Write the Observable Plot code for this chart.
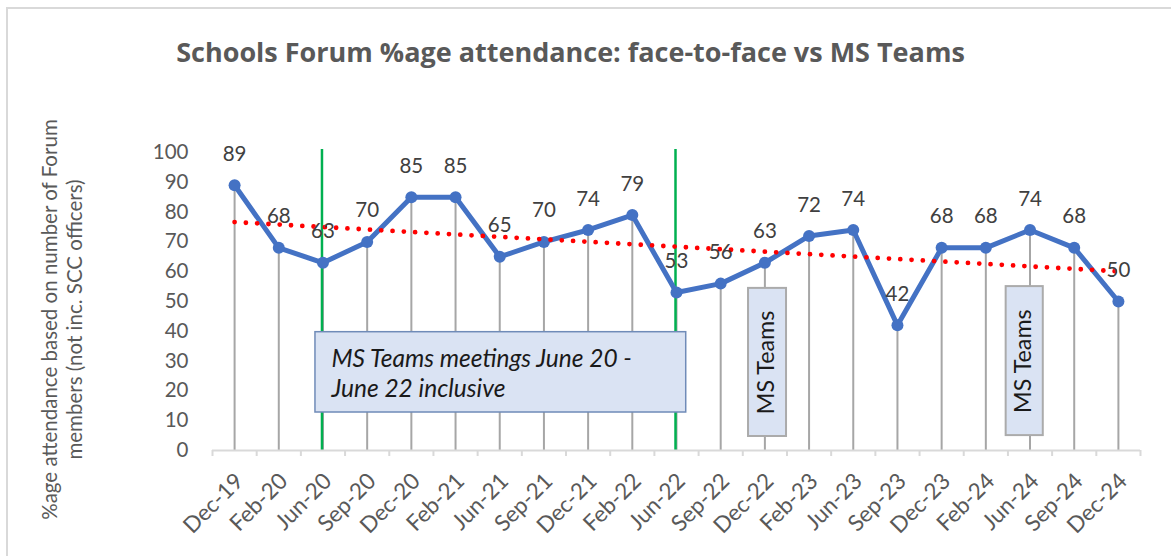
<!DOCTYPE html>
<html>
<head>
<meta charset="utf-8">
<script src="https://cdn.jsdelivr.net/npm/d3@7"></script>
<script src="https://cdn.jsdelivr.net/npm/@observablehq/plot@0.6"></script>
<style>
  html, body { margin: 0; padding: 0; background: #fff; }
  #wrap { position: relative; width: 1171px; height: 556px; overflow: hidden; background: #fff; font-family: Lato, "Open Sans", sans-serif; }
  #frame { position: absolute; left: 6px; top: 7px; width: 1300px; height: 700px; border-top: 2px solid #d9d9d9; border-left: 2px solid #d9d9d9; box-sizing: border-box; }
  #title { position: absolute; left: 0; width: 1141px; top: 36px; line-height: 32px; text-align: center; font-family: "Open Sans", Lato, sans-serif; font-weight: bold; font-size: 27px; color: #595959; white-space: nowrap; }
  #chart { position: absolute; left: 0; top: 100px; }
</style>
</head>
<body>
<div id="wrap">
  <div id="frame"></div>
  <div id="title">Schools Forum %age attendance: face-to-face vs MS Teams</div>
  <div id="chart"></div>
</div>
<script>
// ---- data ----
const categories = ["Dec-19","Feb-20","Jun-20","Sep-20","Dec-20","Feb-21","Jun-21","Sep-21","Dec-21","Feb-22","Jun-22","Sep-22","Dec-22","Feb-23","Jun-23","Sep-23","Dec-23","Feb-24","Jun-24","Sep-24","Dec-24"];
const values = [89, 68, 63, 70, 85, 85, 65, 70, 74, 79, 53, 56, 63, 72, 74, 42, 68, 68, 74, 68, 50];
const yTicks = [0, 10, 20, 30, 40, 50, 60, 70, 80, 90, 100];
const yTitle = "%age attendance based on number of Forum\nmembers (not inc. SCC officers)";
const periodMarkers = ["Jun-20", "Jun-22"];
const periodTop = 101;
// annotation boxes (x in category-index units, y in %)
const boxText = ["MS Teams meetings June 20 -\nJune 22 inclusive", "MS Teams", "MS Teams"];
const boxX1 = [1.83, 11.63, 17.46];
const boxX2 = [10.22, 12.49, 18.30];
const boxY1 = [12.75, 4.7, 5.0];
const boxY2 = [39.7, 54.4, 55.0];

// ---- derived tables ----
const rows = categories.map((c, i) => ({i, c, v: values[i]}));
const markerIdx = periodMarkers.map(m => categories.indexOf(m));
const boxes = boxText.map((t, k) => ({t, x1: boxX1[k], x2: boxX2[k], y1: boxY1[k], y2: boxY2[k], k}));
const bigBox = boxes.filter(b => b.k === 0);
const smallBoxes = boxes.filter(b => b.k !== 0);
const boundaries = d3.range(-0.5, categories.length, 1);

const plot = Plot.plot({
  width: 1171,
  height: 456,
  marginLeft: 212,
  marginRight: 31,
  marginTop: 52,
  marginBottom: 106,
  style: {fontFamily: "Lato, 'Open Sans', sans-serif", fontSize: "20.5px", color: "#595959", background: "transparent", overflow: "visible"},
  x: {domain: [-0.5, categories.length - 0.5], axis: null},
  y: {domain: [0, 100], axis: null},
  marks: [
    // y axis labels
    Plot.axisY({ticks: yTicks, tickSize: 0, tickPadding: 24, label: null, fontSize: 20.5}),
    // drop lines
    Plot.ruleX(rows, {x: "i", y1: 0, y2: "v", stroke: "#a6a6a6", strokeWidth: 2}),
    // period markers
    Plot.ruleX(markerIdx, {x: d => d, y1: 0, y2: periodTop, stroke: "#00B050", strokeWidth: 2.5, dx: -1}),
    // axis line & ticks
    Plot.ruleY([0], {stroke: "#d9d9d9", strokeWidth: 2}),
    Plot.axisX({ticks: boundaries, tickSize: 6, tickFormat: () => "", stroke: "#d9d9d9", strokeWidth: 2, strokeOpacity: 1, label: null}),
    // annotation boxes
    Plot.rect(bigBox, {x1: "x1", x2: "x2", y1: "y1", y2: "y2", fill: "#DAE3F3", stroke: "#6F8BB8", strokeWidth: 1.5}),
    Plot.rect(smallBoxes, {x1: "x1", x2: "x2", y1: "y1", y2: "y2", fill: "#DAE3F3", stroke: "#ABABAB", strokeWidth: 2}),
    Plot.text(bigBox, {x: "x1", y: d => (d.y1 + d.y2) / 2, text: "t", textAnchor: "start", dx: 16, fontStyle: "italic", fontSize: 24.5, lineHeight: 1.22, fill: "#1a1a1a"}),
    Plot.text(smallBoxes, {x: d => (d.x1 + d.x2) / 2, y: d => (d.y1 + d.y2) / 2, text: "t", rotate: -90, fontSize: 23.3, fill: "#1a1a1a", dx: -1}),
    // series line
    Plot.line(rows, {x: "i", y: "v", stroke: "#4472C4", strokeWidth: 5, strokeLinejoin: "round"}),
    Plot.dot(rows, {x: "i", y: "v", r: 6, fill: "#4472C4", stroke: "none"}),
    // linear trendline
    Plot.linearRegressionY(rows, {x: "i", y: "v", ci: 0, stroke: "#FF0000", strokeWidth: 4.8, strokeDasharray: "0 11.3", strokeLinecap: "round"}),
    // data labels
    Plot.text(rows, {x: "i", y: "v", text: d => String(d.v), dy: -31, fill: "#404040", fontSize: 20.5}),
    // category labels
    Plot.text(rows, {x: "i", y: 0, text: "c", rotate: -45, textAnchor: "end", dx: 5, dy: 27, fill: "#595959", fontSize: 22.5}),
    // y title
    Plot.text([yTitle], {frameAnchor: "left", text: d => d, rotate: -90, textAnchor: "middle", dx: 60.5 - 212, dy: 18, lineHeight: 1.22, fontSize: 20.5, fill: "#595959"})
  ]
});
document.getElementById("chart").appendChild(plot);
</script>
</body>
</html>
